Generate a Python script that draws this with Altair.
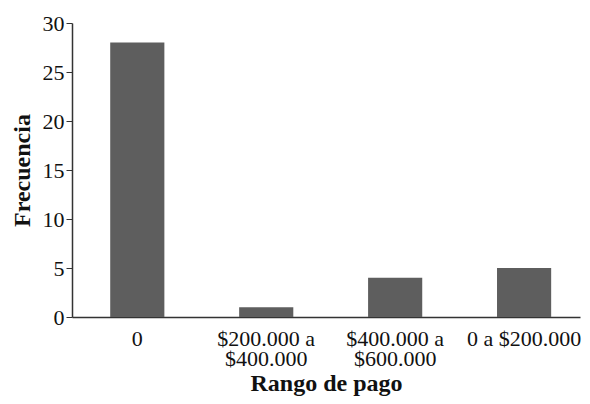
import altair as alt
import pandas as pd

categorias = ["0", "$200.000 a\n$400.000", "$400.000 a\n$600.000", "0 a $200.000"]
frecuencias = [28, 1, 4, 5]

lineas = [c.split("\n") for c in categorias]
df = pd.DataFrame({
    "rango": categorias,
    "frecuencia": frecuencias,
    "linea1": [l[0] for l in lineas],
    "linea2": [l[1] if len(l) > 1 else "" for l in lineas],
})

FONT = "Liberation Serif"
H = 294

xenc = alt.X(
    "rango:N",
    sort=categorias,
    title="Rango de pago",
    scale=alt.Scale(paddingInner=0.58, paddingOuter=0.26, align=0.57),
    axis=alt.Axis(labels=False, ticks=False, titlePadding=54),
)

bars = alt.Chart(df).mark_bar(color="#5e5e5e").encode(
    x=xenc,
    y=alt.Y(
        "frecuencia:Q",
        title="Frecuencia",
        scale=alt.Scale(domain=[0, 30]),
        axis=alt.Axis(values=[0, 5, 10, 15, 20, 25, 30], grid=False, tickSize=6, labelPadding=2, titlePadding=8),
    ),
)

txt_style = dict(font=FONT, fontSize=22, color="#111111", baseline="top", align="center")

line1 = alt.Chart(df).mark_text(**txt_style).encode(
    x=alt.X("rango:N", sort=categorias),
    y=alt.value(H + 12),
    text="linea1:N",
)
line2 = alt.Chart(df).mark_text(**txt_style).encode(
    x=alt.X("rango:N", sort=categorias),
    y=alt.value(H + 32),
    text="linea2:N",
)

chart = alt.layer(bars, line1, line2).properties(
    width=508,
    height=H,
    autosize=alt.AutoSizeParams(type="none"),
    padding={"left": 64, "top": 15, "right": 2, "bottom": 80},
).configure_view(stroke=None).configure_axis(
    labelFont=FONT,
    titleFont=FONT,
    labelFontSize=22,
    titleFontSize=24,
    labelColor="#111111",
    titleColor="#111111",
    titleFontWeight="bold",
    domainColor="#333333",
    tickColor="#333333",
    domainWidth=1.5,
)

chart.save("out.html", embed_options={"renderer": "svg", "actions": False})
